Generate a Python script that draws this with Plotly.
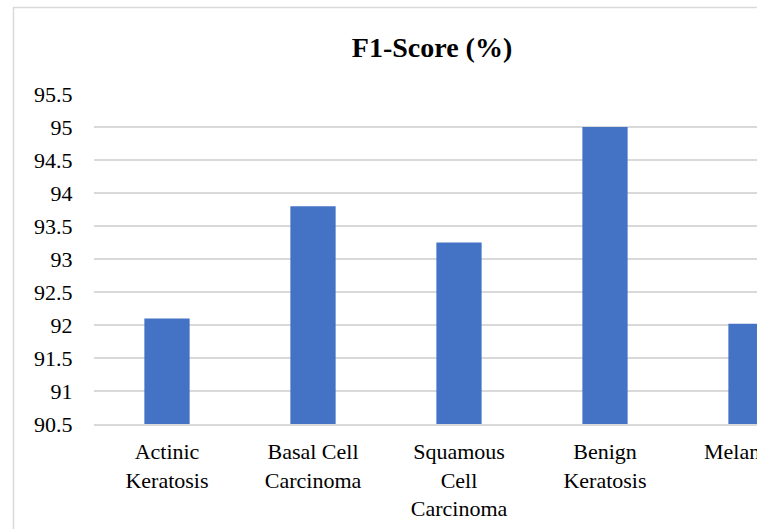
import plotly.graph_objects as go

categories = ["Actinic<br>Keratosis", "Basal Cell<br>Carcinoma", "Squamous<br>Cell<br>Carcinoma",
              "Benign<br>Keratosis", "Melanoma"]
f1_scores = [92.1, 93.8, 93.25, 95.0, 92.02]
y_tickvals = [90.5, 91, 91.5, 92, 92.5, 93, 93.5, 94, 94.5, 95, 95.5]
y_ticktext = ["90.5", "91", "91.5", "92", "92.5", "93", "93.5", "94", "94.5", "95", "95.5"]

W, H = 757, 529
L, R, T, B = 94, 0, 94, 105
cat_px = 146.0
plot_w = W - L - R
plot_h = H - T - B

font_family = "Liberation Serif, Times New Roman, serif"

fig = go.Figure(go.Bar(
    x=list(range(len(categories))),
    y=f1_scores,
    marker=dict(color="#4472C4", line=dict(width=0)),
    width=0.31,
))

fig.update_layout(
    width=W, height=H,
    margin=dict(l=L, r=R, t=T, b=B, autoexpand=False),
    paper_bgcolor="white", plot_bgcolor="white",
    showlegend=False,
    title=dict(text="<b>F1-Score (%)</b>", x=(432 - L) / plot_w, xref="paper", xanchor="center",
               y=1 - 47 / H, yref="container", yanchor="middle",
               font=dict(family=font_family, size=28, color="#000")),
    font=dict(family=font_family, size=22, color="#000"),
)

fig.update_xaxes(
    tickmode="array", tickvals=list(range(len(categories))), ticktext=categories,
    range=[-0.5, -0.5 + plot_w / cat_px],
    showgrid=False, zeroline=False,
    showline=True, linecolor="#D9D9D9", linewidth=1.5,
    ticks="outside", ticklen=7, tickcolor="rgba(0,0,0,0)",
    tickfont=dict(family=font_family, size=22, color="#000"),
    ticklabeloverflow="allow",
)
fig.update_yaxes(
    range=[90.5, 95.5], tickmode="array", tickvals=y_tickvals, ticktext=y_ticktext,
    showgrid=True, gridcolor="#D9D9D9", gridwidth=1.5,
    zeroline=False, showline=False,
    ticks="outside", ticklen=16, tickcolor="rgba(0,0,0,0)",
    tickfont=dict(family=font_family, size=22, color="#000"),
)

# chart-area frame (extends past the cropped right/bottom edges)
fig.add_shape(type="rect", xref="paper", yref="paper",
              x0=(13.5 - L) / plot_w, x1=1.3,
              y0=-0.4, y1=(H - B - 7.5) / plot_h,
              line=dict(color="#D9D9D9", width=1.5), fillcolor="rgba(0,0,0,0)", layer="below")

fig.write_html("out.html", config={"displayModeBar": False},
               post_script="document.body.style.margin='0';")
